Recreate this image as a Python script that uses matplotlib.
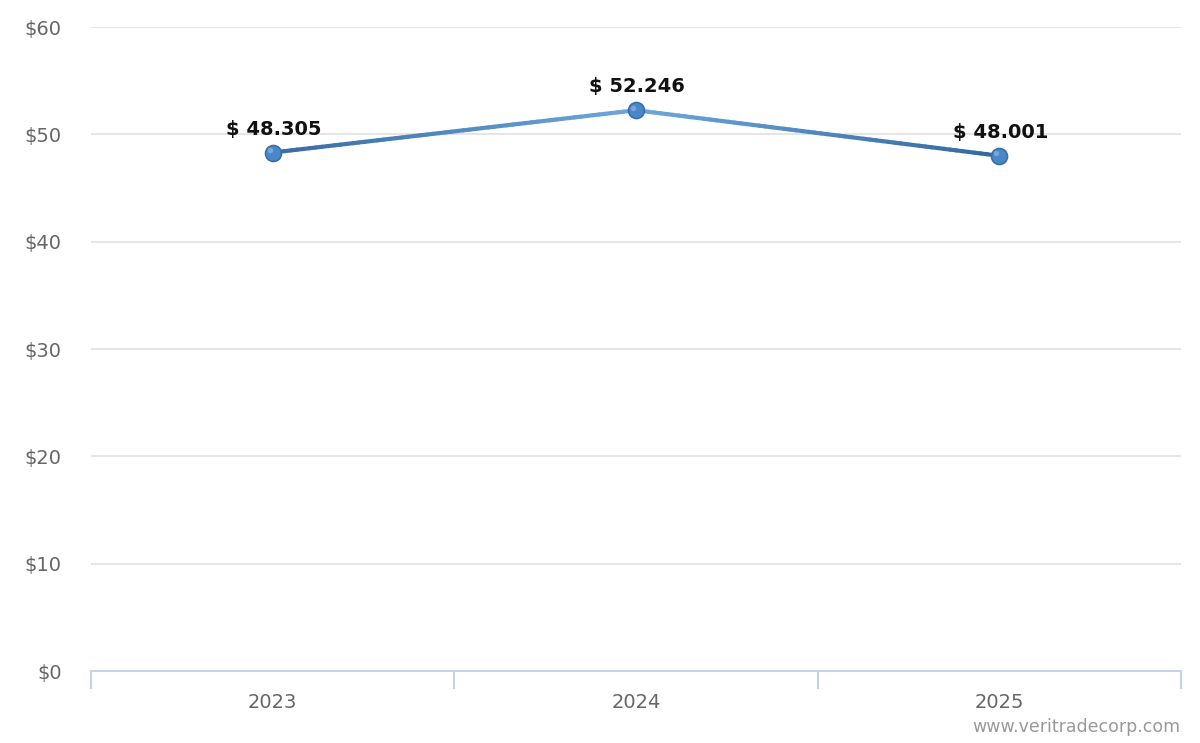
import numpy as np
import matplotlib.pyplot as plt
from matplotlib.collections import LineCollection
from matplotlib.colors import LinearSegmentedColormap

years = ['2023', '2024', '2025']
prices = [48.305, 52.246, 48.001]
labels = ['$ 48.305', '$ 52.246', '$ 48.001']
yticks = [0, 10, 20, 30, 40, 50, 60]

fig = plt.figure(figsize=(12, 7.43), dpi=100)
ax = fig.add_axes([91 / 1200, 72 / 743, 1090 / 1200, 644 / 743])

x = np.arange(len(years))
y = np.array(prices)

# gradient line: darker at low values, lighter at the top
cmap = LinearSegmentedColormap.from_list('blu', ['#33679f', '#6ea8dc'])
segs, cols = [], []
lo, hi = y.min(), y.max()
for i in range(len(x) - 1):
    t = np.linspace(0, 1, 60)
    xs = x[i] + (x[i + 1] - x[i]) * t
    ys = y[i] + (y[i + 1] - y[i]) * t
    pts = np.column_stack([xs, ys])
    for j in range(len(pts) - 1):
        segs.append(pts[j:j + 2])
        cols.append(cmap(((ys[j] + ys[j + 1]) / 2 - lo) / (hi - lo)))
lc = LineCollection(segs, colors=cols, linewidths=3, capstyle='round', zorder=3)
ax.add_collection(lc)

ax.plot(x, y, 'o', ms=11.5, mfc='#4a87c9', mec='#3a6ea8', mew=1.2, zorder=4)
ax.plot(x - 0.008, y + 0.25, 'o', ms=4, mfc='#7fb0e3', mec='none', alpha=0.8, zorder=5)

for xi, yi, lab in zip(x, y, labels):
    ax.annotate(lab, (xi, yi), xytext=(1, 10), textcoords='offset points',
                ha='center', va='bottom', fontsize=14, fontweight='bold',
                color='#111111', zorder=6)

ax.set_xlim(-0.5, 2.5)
ax.set_ylim(0, 60)
ax.set_yticks(yticks)
ax.set_yticklabels(['$' + str(v) for v in yticks])
ax.set_xticks(x)
ax.set_xticklabels(years)
ax.set_xticks([-0.5, 0.5, 1.5, 2.5], minor=True)

ax.grid(axis='y', color='#e0e0e0', linewidth=1.2)
ax.set_axisbelow(True)
for s in ['top', 'right', 'left']:
    ax.spines[s].set_visible(False)
ax.spines['bottom'].set_color('#c5d2e8')
ax.spines['bottom'].set_linewidth(1.5)

ax.tick_params(axis='y', length=0, pad=21, labelsize=14, labelcolor='#666666')
ax.tick_params(axis='x', which='major', length=0, pad=16, labelsize=14, labelcolor='#666666')
ax.tick_params(axis='x', which='minor', length=13, width=1.5, color='#c5d2e8')

fig.text(1180 / 1200, 16 / 743, 'www.veritradecorp.com', ha='right', va='center',
         fontsize=12.5, color='#999999')

fig.savefig('out.png', dpi=100)
